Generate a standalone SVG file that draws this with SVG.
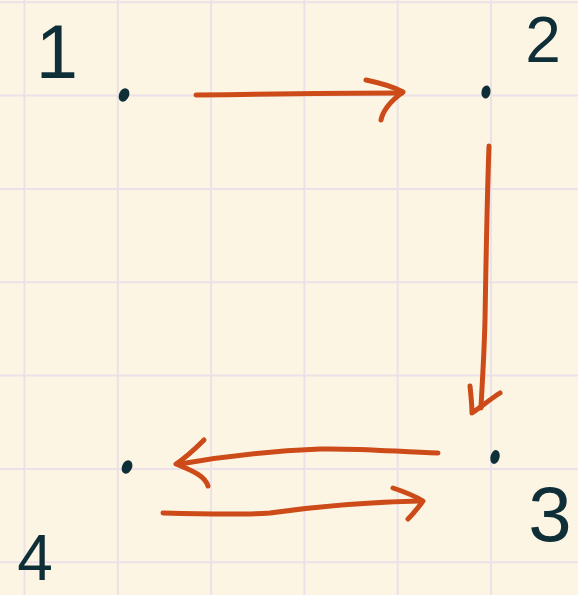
<svg xmlns="http://www.w3.org/2000/svg" width="578" height="595" viewBox="0 0 578 595">
<style>
.grid line{stroke:#ebe1e8;stroke-width:2}
.arrow{fill:none;stroke:#cc4b19;stroke-width:5;stroke-linecap:round;stroke-linejoin:round}
.dot{fill:#0f2f38;stroke:#0f2f38;stroke-width:2}
.label{font-family:"Liberation Sans","DejaVu Sans",sans-serif;fill:#0f2f38;text-anchor:middle}
</style>
<rect width="578" height="595" fill="#fdf5e3"/>
<g class="grid">
<line x1="24.5" y1="0" x2="24.5" y2="595"/>
<line x1="117.8" y1="0" x2="117.8" y2="595"/>
<line x1="211.1" y1="0" x2="211.1" y2="595"/>
<line x1="304.4" y1="0" x2="304.4" y2="595"/>
<line x1="397.7" y1="0" x2="397.7" y2="595"/>
<line x1="491" y1="0" x2="491" y2="595"/>
<line x1="0" y1="2.3" x2="578" y2="2.3"/>
<line x1="0" y1="95.6" x2="578" y2="95.6"/>
<line x1="0" y1="189" x2="578" y2="189"/>
<line x1="0" y1="282.3" x2="578" y2="282.3"/>
<line x1="0" y1="375.6" x2="578" y2="375.6"/>
<line x1="0" y1="469" x2="578" y2="469"/>
<line x1="0" y1="562.3" x2="578" y2="562.3"/>
</g>
<g id="connectors">
<g id="edge-1-2">
<path class="arrow" d="M196,95 C260,94 330,93 402,93"/>
<path class="arrow" d="M366,80 C385,84 396,88 403,92 C392,100 383,110 381,120"/>
</g>
<g id="edge-2-3">
<path class="arrow" d="M489,146 C487,200 486,260 485,320 C484,360 482,385 481,408"/>
<path class="arrow" d="M470,386 C471,396 472,405 472,413 C482,406 492,398 500,393"/>
</g>
<g id="edge-3-4">
<path class="arrow" d="M438,453 C400,452 360,448 320,449 C270,451 230,455 180,464"/>
<path class="arrow" d="M204,440 C195,449 185,458 176,464 C190,470 205,475 208,486"/>
</g>
<g id="edge-4-3">
<path class="arrow" d="M163,513 C200,514 240,515 270,513 C320,506 370,502 420,501"/>
<path class="arrow" d="M393,488 C405,492 415,496 423,501 C418,508 413,514 408,519"/>
</g>
</g>
<g id="node-1">
<ellipse class="dot" cx="124" cy="95" rx="4" ry="6" transform="rotate(25 124 95)"/>
<text class="label" x="57" y="78" font-size="76">1</text>
</g>
<g id="node-2">
<ellipse class="dot" cx="486" cy="92" rx="3.5" ry="5.5" transform="rotate(10 486 92)"/>
<text class="label" x="543" y="62" font-size="64">2</text>
</g>
<g id="node-3">
<ellipse class="dot" cx="495" cy="457" rx="3.5" ry="6" transform="rotate(15 495 457)"/>
<text class="label" x="550" y="541" font-size="78">3</text>
</g>
<g id="node-4">
<ellipse class="dot" cx="127" cy="467" rx="4" ry="6" transform="rotate(25 127 467)"/>
<text class="label" x="35" y="580" font-size="64">4</text>
</g>
</svg>
